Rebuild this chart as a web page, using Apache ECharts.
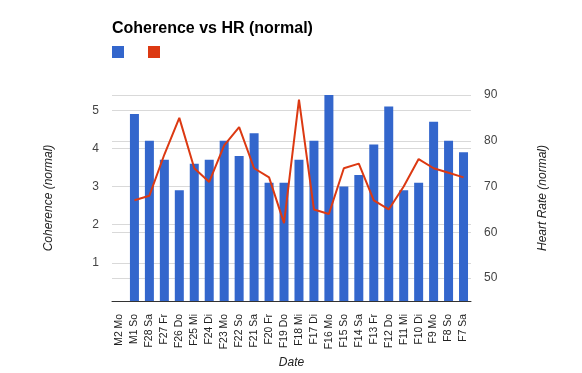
<!DOCTYPE html>
<html><head><meta charset="utf-8">
<script src="https://cdn.jsdelivr.net/npm/echarts@6/dist/echarts.min.js"></script>
<style>html,body{margin:0;padding:0;background:#fff}#c{width:582px;height:373px}</style>
</head><body><div id="c"></div>
<script>
const categories = ['M2 Mo','M1 So','F28 Sa','F27 Fr','F26 Do','F25 Mi','F24 Di','F23 Mo','F22 So','F21 Sa','F20 Fr','F19 Do','F18 Mi','F17 Di','F16 Mo','F15 So','F14 Sa','F13 Fr','F12 Do','F11 Mi','F10 Di','F9 Mo','F8 So','F7 Sa'];
const coherence = [null,4.9,4.2,3.7,2.9,3.6,3.7,4.2,3.8,4.4,3.1,3.1,3.7,4.2,5.4,3.0,3.3,4.1,5.1,2.9,3.1,4.7,4.2,3.9];
const heartRate = [null,67,68,77,85,74,71,79,83,74,72,62,89,65,64,74,75,67,65,70,76,74,73,72];
const leftTicks = [1,2,3,4,5];
const rightTicks = [50,60,70,80,90];

const font = 'Arial, "Liberation Sans", sans-serif';
const chart = echarts.init(document.getElementById('c'), null, {renderer:'canvas'});
chart.setOption({
  animation:false,
  title:{text:'Coherence vs HR (normal)', left:107, top:16, textStyle:{fontFamily:font,fontSize:16,fontWeight:'bold',color:'#000'}},
  legend:{left:107, top:41, itemWidth:12, itemHeight:12, itemGap:24, icon:'rect',
    formatter:()=> '', data:['Coherence','Heart Rate']},
  grid:{left:112, right:111, top:95, bottom:72, containLabel:false, outerBoundsMode:'none'},
  xAxis:{type:'category', data:categories, name:'Date', nameLocation:'middle', nameGap:50,
    nameTextStyle:{fontFamily:font,fontSize:12,fontStyle:'italic',color:'#222'},
    axisTick:{show:false}, axisLine:{lineStyle:{color:'#333',width:1}},
    axisLabel:{rotate:90, margin:13, fontFamily:font, fontSize:10.4, color:'#222', interval:0}},
  yAxis:[
    {type:'value', min:0, max:5.4, interval:1, name:'Coherence (normal)', nameLocation:'middle', nameGap:57,
     nameTextStyle:{fontFamily:font,fontSize:12,fontStyle:'italic',color:'#222'},
     axisLine:{show:false}, axisTick:{show:false},
     axisLabel:{fontFamily:font,fontSize:12,color:'#444',margin:13, formatter:v=> leftTicks.includes(v)? String(v):''},
     splitLine:{lineStyle:{color:'#d9d9d9'}}},
    {type:'value', min:45, max:90, interval:5, name:'Heart Rate (normal)', nameLocation:'middle', nameGap:66, nameRotate:90,
     nameTextStyle:{fontFamily:font,fontSize:12,fontStyle:'italic',color:'#222'},
     axisLine:{show:false}, axisTick:{show:false},
     axisLabel:{fontFamily:font,fontSize:12,color:'#444',margin:13, formatter:v=> rightTicks.includes(v)? String(v):''},
     splitLine:{lineStyle:{color:['transparent','#d9d9d9']}}}
  ],
  series:[
    {name:'Coherence', type:'bar', data:coherence, yAxisIndex:0, barWidth:9, itemStyle:{color:'#3366cc'}},
    {name:'Heart Rate', type:'line', data:heartRate, yAxisIndex:1, symbol:'none', lineStyle:{color:'#dc3912',width:2}, itemStyle:{color:'#dc3912'}}
  ]
});
</script></body></html>
